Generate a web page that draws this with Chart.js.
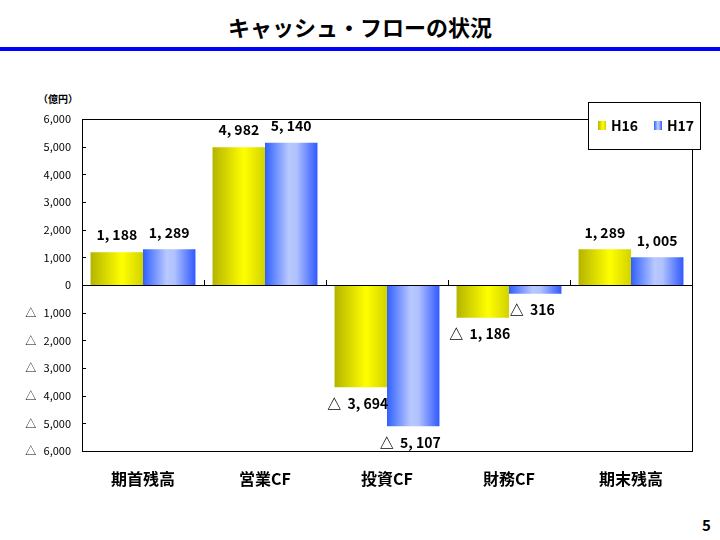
<!DOCTYPE html>
<html>
<head>
<meta charset="utf-8">
<script src="https://cdn.jsdelivr.net/npm/chart.js@4/dist/chart.umd.min.js"></script>
<style>
  body { margin: 0; background: #fff; font-family: "Noto Sans CJK JP", sans-serif; }
  #wrap { position: relative; width: 720px; height: 540px; }
  #title { position: absolute; left: 0; top: 10px; width: 720px; text-align: center; font-size: 22px; font-weight: bold; line-height: 32px; }
  #rule { position: absolute; left: 0; top: 47px; width: 720px; height: 4px; background: #0000ff; }
  #unit { position: absolute; left: 38px; top: 91px; font-size: 10px; font-weight: bold; }
  #page { position: absolute; left: 702px; top: 514px; font-size: 15px; font-weight: bold; }
  canvas { position: absolute; left: 0; top: 0; }
</style>
</head>
<body>
<div id="wrap">
  <div id="title">キャッシュ・フローの状況</div>
  <div id="rule"></div>
  <div id="unit">（億円）</div>
  <div id="page">5</div>
  <canvas id="cfChart" width="720" height="540"></canvas>
</div>
<script>
const categories = ["期首残高", "営業CF", "投資CF", "財務CF", "期末残高"];
const seriesNames = ["H16", "H17"];
const h16 = [1188, 4982, -3694, -1186, 1289];
const h17 = [1289, 5140, -5107, -316, 1005];
const yTicks = [-6000, -5000, -4000, -3000, -2000, -1000, 0, 1000, 2000, 3000, 4000, 5000, 6000];

const gradStops = [
  [[0, "#b4b400"], [0.6, "#ffff00"], [1, "#d2d200"]],
  [[0, "#3060ff"], [0.45, "#b8c8ff"], [0.6, "#b0c2ff"], [1, "#3058ff"]]
];

function fmt(v) {
  return Math.abs(v).toLocaleString("en-US");
}
function labelText(v) {
  const s = Math.abs(v).toLocaleString("en-US").replace(",", ", ");
  return v < 0 ? "△  " + s : s;
}

function makeGrad(ctx, x0, x1, i) {
  const g = ctx.createLinearGradient(x0, 0, x1, 0);
  gradStops[i].forEach(s => g.addColorStop(s[0], s[1]));
  return g;
}

const decor = {
  id: "decor",
  beforeDatasetDraw(chart, args) {
    const meta = chart.getDatasetMeta(args.index);
    meta.data.forEach(bar => {
      bar.options.backgroundColor = makeGrad(chart.ctx, bar.x - bar.width / 2, bar.x + bar.width / 2, args.index);
    });
  },
  afterDatasetsDraw(chart) {
    const ctx = chart.ctx;
    const a = chart.chartArea;
    const x = chart.scales.x, y = chart.scales.y;
    const y0 = y.getPixelForValue(0);
    ctx.save();
    ctx.strokeStyle = "#000";
    ctx.lineWidth = 1;
    ctx.strokeRect(a.left + 0.5, a.top + 0.5, a.right - a.left, a.bottom - a.top);
    ctx.beginPath();
    ctx.moveTo(a.left, Math.round(y0) + 0.5);
    ctx.lineTo(a.right, Math.round(y0) + 0.5);
    yTicks.forEach(t => {
      const py = Math.round(y.getPixelForValue(t)) + 0.5;
      ctx.moveTo(a.left, py);
      ctx.lineTo(a.left + 4, py);
    });
    for (let i = 1; i < categories.length; i++) {
      const px = Math.round((x.getPixelForValue(i - 1) + x.getPixelForValue(i)) / 2) + 0.5;
      ctx.moveTo(px, y0);
      ctx.lineTo(px, y0 - 5);
    }
    ctx.stroke();

    ctx.fillStyle = "#000";
    ctx.font = "bold 14px 'Noto Sans CJK JP'";
    ctx.textAlign = "center";
    chart.data.datasets.forEach((ds, di) => {
      chart.getDatasetMeta(di).data.forEach((bar, i) => {
        const v = ds.data[i];
        if (v >= 0) {
          ctx.textBaseline = "bottom";
          ctx.fillText(labelText(v), bar.x, bar.y - 10);
        } else {
          ctx.textBaseline = "top";
          ctx.fillText(labelText(v), bar.x - 3, bar.y + 9);
        }
      });
    });

    // legend box
    const lx = 588, ly = 102, lw = 112, lh = 47;
    ctx.fillStyle = "#fff";
    ctx.fillRect(lx, ly, lw, lh);
    ctx.strokeRect(lx + 0.5, ly + 0.5, lw, lh);
    ctx.font = "bold 14px 'Noto Sans CJK JP'";
    ctx.textAlign = "left";
    ctx.textBaseline = "middle";
    seriesNames.forEach((n, i) => {
      const bx = lx + 10 + i * 56;
      ctx.fillStyle = makeGrad(ctx, bx, bx + 8, i);
      ctx.fillRect(bx, ly + 19, 8, 9);
      ctx.fillStyle = "#000";
      ctx.fillText(n, bx + 13, ly + 24);
    });
    ctx.restore();
  }
};

new Chart(document.getElementById("cfChart").getContext("2d"), {
  type: "bar",
  data: {
    labels: categories,
    datasets: [
      // scriptable colours so each bar gets its own options object
      { label: seriesNames[0], data: h16, backgroundColor: c => "#ffff00" },
      { label: seriesNames[1], data: h17, backgroundColor: c => "#8fa8ff" }
    ]
  },
  options: {
    responsive: false,
    animation: false,
    layout: { padding: { left: 0, right: 28, top: 119, bottom: 0 } },
    datasets: { bar: { categoryPercentage: 0.86, barPercentage: 1.0 } },
    plugins: { legend: { display: false }, tooltip: { enabled: false } },
    scales: {
      x: {
        grid: { display: false },
        border: { display: false },
        ticks: { color: "#000", padding: 10, font: { family: "Noto Sans CJK JP", size: 16, weight: "bold" } },
        afterFit(s) { s.height = 89; }
      },
      y: {
        min: -6000,
        max: 6000,
        afterBuildTicks(s) { s.ticks = yTicks.map(v => ({ value: v })); },
        grid: { display: false },
        border: { display: false },
        ticks: {
          color: "#000",
          padding: 3,
          font: { family: "Noto Sans CJK JP", size: 11 },
          callback: v => (v < 0 ? "△   " : "") + fmt(v)
        },
        afterFit(s) { s.width = 82; }
      }
    }
  },
  plugins: [decor]
});
</script>
</body>
</html>
